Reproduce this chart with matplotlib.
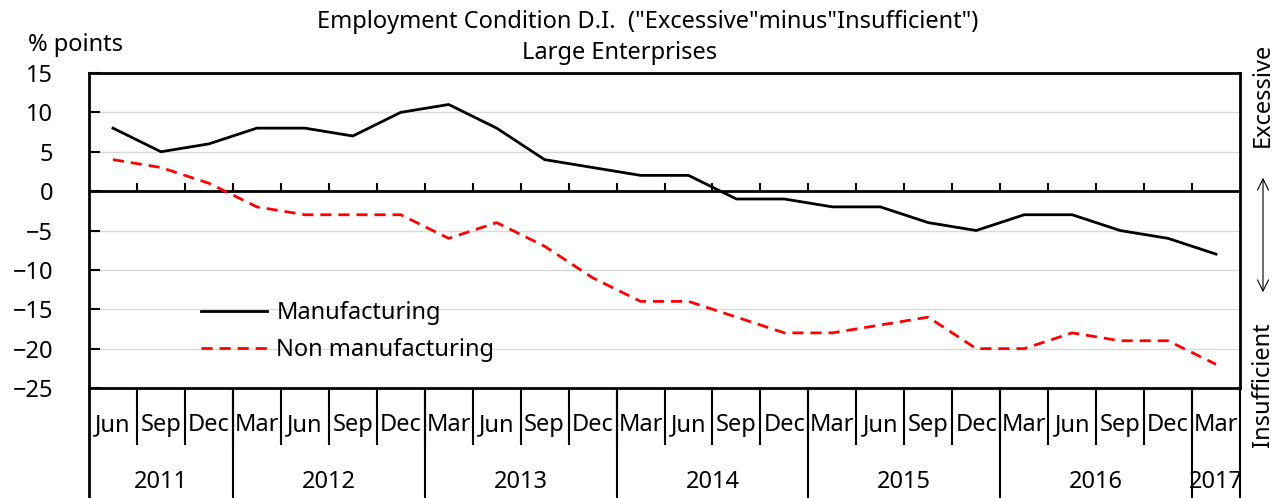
import numpy as np
import matplotlib
matplotlib.use("Agg")
import matplotlib.pyplot as plt
import matplotlib.transforms as mtransforms

plt.rcParams['font.family'] = ['Noto Sans', 'DejaVu Sans']

months = ["Jun", "Sep", "Dec",
          "Mar", "Jun", "Sep", "Dec",
          "Mar", "Jun", "Sep", "Dec",
          "Mar", "Jun", "Sep", "Dec",
          "Mar", "Jun", "Sep", "Dec",
          "Mar", "Jun", "Sep", "Dec",
          "Mar"]
years = ["2011", "2012", "2013", "2014", "2015", "2016", "2017"]
year_counts = [3, 4, 4, 4, 4, 4, 1]

manufacturing = [8, 5, 6, 8, 8, 7, 10, 11, 8, 4, 3, 2, 2, -1, -1,
                 -2, -2, -4, -5, -3, -3, -5, -6, -8]
non_manufacturing = [4, 3, 1, -2, -3, -3, -3, -6, -4, -7, -11, -14, -14, -16,
                     -18, -18, -17, -16, -20, -20, -18, -19, -19, -22]

n = len(months)
x = np.arange(n) + 0.5
fs = 17

fig = plt.figure(figsize=(12.78, 4.98), dpi=100)
ax = fig.add_axes([89 / 1278, 1 - 388 / 498, (1240 - 89) / 1278, (388 - 73) / 498])

ax.set_xlim(0, n)
ax.set_ylim(-25, 15)
ax.set_yticks(np.arange(-25, 16, 5))
ax.tick_params(axis='y', direction='in', length=8, width=1.5, pad=26, labelsize=fs)
ax.set_xticks([])
for s in ax.spines.values():
    s.set_linewidth(2)

for v in [10, 5, -5, -10, -15, -20]:
    ax.axhline(v, color='#d9d9d9', lw=1, zorder=0)
ax.axhline(0, color='black', lw=2, zorder=2)

# small ticks on the zero line
tr = mtransforms.blended_transform_factory(ax.transData, ax.transAxes)
bounds = np.arange(1, n)
zero_ax = 25 / 40
ax.vlines(bounds, zero_ax, zero_ax + 8 / 315, transform=tr, color='black', lw=1.5, zorder=2)

ax.plot(x, manufacturing, color='black', lw=2, label='Manufacturing', zorder=3)
ax.plot(x, non_manufacturing, color='red', lw=2, dashes=(4, 2.5), label='Non manufacturing', zorder=3)

# category axis below
ax.vlines(bounds, 0, -57 / 315, transform=tr, color='black', lw=1.5, clip_on=False)
for xi, m in zip(x, months):
    ax.text(xi, -37 / 315, m, transform=tr, ha='center', va='center', fontsize=fs, clip_on=False)

start = 0
for yr, c in zip(years, year_counts):
    ax.text(start + c / 2, -94 / 315, yr, transform=tr, ha='center', va='center', fontsize=fs, clip_on=False)
    start += c
    ax.vlines(start, 0, -110 / 315, transform=tr, color='black', lw=1.5, clip_on=False)
ax.vlines(0, 0, -110 / 315, transform=tr, color='black', lw=2, clip_on=False)

ax.legend(loc='upper left', bbox_to_anchor=(0.089, 0.305), frameon=False, fontsize=fs,
          handlelength=2.8, handletextpad=0.4, labelspacing=0.55, borderaxespad=0)

fig.text(648 / 1278, 1 - 22 / 498, 'Employment Condition D.I.  ("Excessive"minus"Insufficient")',
         ha='center', va='center', fontsize=17)
fig.text(620 / 1278, 1 - 53 / 498, 'Large Enterprises',
         ha='center', va='center', fontsize=17)
fig.text(76 / 1278, 1 - 45 / 498, '% points', ha='center', va='center', fontsize=fs)

fig.text(1263 / 1278, 1 - 95 / 498, 'Excessive', rotation=90, ha='center', va='center', fontsize=fs)
fig.text(1263 / 1278, 1 - 385 / 498, 'Insufficient', rotation=90, ha='center', va='center', fontsize=fs)
fig.patches.append(matplotlib.patches.FancyArrowPatch(
    (1263 / 1278, 1 - 175 / 498), (1263 / 1278, 1 - 295 / 498), transform=fig.transFigure,
    arrowstyle='<->,head_length=8,head_width=4', color='black', lw=0.8))

fig.savefig('out.png', dpi=100)
